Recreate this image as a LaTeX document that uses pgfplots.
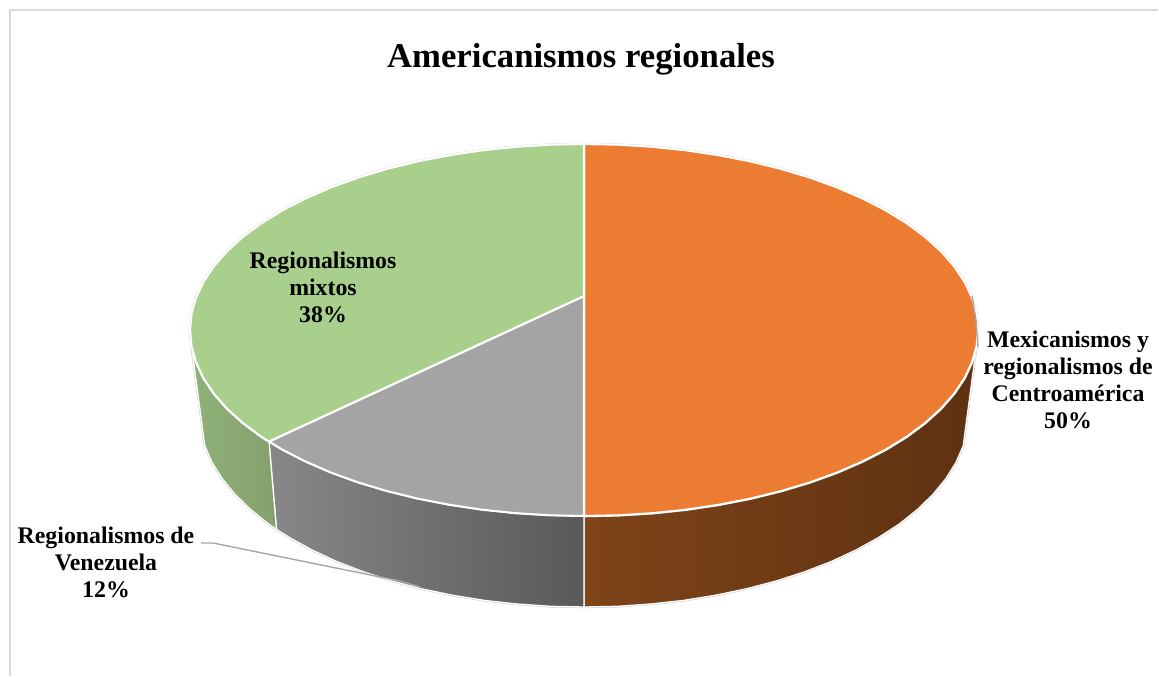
\documentclass[border=0pt]{standalone}
\usepackage{fontspec}
\setmainfont{Liberation Serif}
\usepackage{pgfplots}
\usepackage{pgfplotstable}
\pgfplotsset{compat=1.18}
\definecolor{cOr}{HTML}{EB7C31}
\definecolor{cGr}{HTML}{A9CF8D}
\definecolor{cGy}{HTML}{A4A4A4}
\definecolor{halo}{HTML}{CFCFCF}
\definecolor{frame}{HTML}{DADADA}
\definecolor{leader}{HTML}{A6A6A6}
\definecolor{sideOrL}{HTML}{7F4418}
\definecolor{sideOrD}{HTML}{5E3112}
\pgfplotstableread{
x y
584 296
584 144
618.4 144.7
652.4 146.8
686 150.3
718.7 155.2
750.5 161.4
781 168.9
810 177.6
837.3 187.5
862.6 198.5
885.8 210.4
906.8 223.3
925.2 237
941.1 251.4
954.2 266.4
964.6 281.9
972 297.7
976.5 313.8
978 330
976.5 346.2
972 362.3
964.6 378.1
954.2 393.6
941.1 408.6
925.2 423
906.8 436.7
885.8 449.6
862.6 461.5
837.3 472.5
810 482.4
781 491.1
750.5 498.6
718.7 504.8
686 509.7
652.4 513.2
618.4 515.3
584 516
}\topOrange
\pgfplotstableread{
x y
584 296
584 516
549.6 515.3
515.6 513.2
482 509.7
449.3 504.8
417.5 498.6
387 491.1
358 482.4
330.7 472.5
305.4 461.5
282.2 449.6
269 441.5
}\topGray
\pgfplotstableread{
x y
584 296
269 441.5
261.2 436.7
242.8 423
226.9 408.6
213.8 393.6
203.4 378.1
196 362.3
191.5 346.2
190 330
191.5 313.8
196 297.7
203.4 281.9
213.8 266.4
226.9 251.4
242.8 237
261.2 223.3
282.2 210.4
305.4 198.5
330.7 187.5
358 177.6
387 168.9
417.5 161.4
449.3 155.2
482 150.3
515.6 146.8
549.6 144.7
584 144
}\topGreen
\pgfplotstableread{
x y
584 516
618.4 515.3
652.4 513.2
686 509.7
718.7 504.8
750.5 498.6
781 491.1
810 482.4
837.3 472.5
862.6 461.5
885.8 449.6
906.8 436.7
925.2 423
941.1 408.6
954.2 393.6
964.6 378.1
972 362.3
976.5 346.2
963.2 445.9
955.9 462.5
945.8 478.7
932.9 494.4
917.4 509.5
899.4 523.9
878.9 537.3
856.2 549.9
831.5 561.4
804.8 571.7
776.5 580.9
746.7 588.7
715.7 595.2
683.6 600.4
650.8 604
617.6 606.3
584 607
}\sideOrange
\pgfplotstableread{
x y
584 516
549.6 515.3
515.6 513.2
482 509.7
449.3 504.8
417.5 498.6
387 491.1
358 482.4
330.7 472.5
305.4 461.5
282.2 449.6
269 441.5
276.5 529.4
289.1 537.3
311.8 549.9
336.5 561.4
363.2 571.7
391.5 580.9
421.3 588.7
452.3 595.2
484.4 600.4
517.2 604
550.4 606.3
584 607
}\sideGray
\pgfplotstableread{
x y
269 441.5
261.2 436.7
242.8 423
226.9 408.6
213.8 393.6
203.4 378.1
196 362.3
191.5 346.2
204.8 445.9
212.1 462.5
222.2 478.7
235.1 494.4
250.6 509.5
268.6 523.9
276.5 529.4
}\sideGreen
\begin{document}
\begin{tikzpicture}
\begin{axis}[
  width=1159pt, height=677pt, scale only axis,
  xmin=0, xmax=1159, ymin=0, ymax=677, y dir=reverse,
  hide axis, clip=false,
]
% keep the full canvas in the bounding box
\path (axis cs:0,0) rectangle (axis cs:1159,677);
% chart frame
\addplot[frame, line width=1.8pt] coordinates {(10,676) (10,10) (1158,10)};
% side faces
\addplot[draw=halo, line width=2.4pt, fill=white] table {\sideOrange} -- cycle;
\addplot[draw=halo, line width=2.4pt, fill=white] table {\sideGray} -- cycle;
\addplot[draw=halo, line width=2.4pt, fill=white] table {\sideGreen} -- cycle;
\addplot[draw=white, line width=1.3pt, left color=sideOrL, middle color=sideOrD, right color=sideOrD] table {\sideOrange} -- cycle;
\addplot[draw=white, line width=1.3pt, left color=black!47, right color=black!65] table {\sideGray} -- cycle;
\addplot[draw=white, line width=1.3pt, left color=cGr!85!black, right color=cGr!78!black] table {\sideGreen} -- cycle;
% halo of the back rim
\addplot[draw=halo, line width=2.6pt] table {\topGreen};
\addplot[draw=halo, line width=2.6pt] table {\topOrange};
% top faces
\addplot[draw=white, line width=2.1pt, fill=cOr, line join=round] table {\topOrange} -- cycle;
\addplot[draw=white, line width=2.1pt, fill=cGy, line join=round] table {\topGray} -- cycle;
\addplot[draw=white, line width=2.1pt, fill=cGr, line join=round] table {\topGreen} -- cycle;
% leader lines
\addplot[leader, line width=1.4pt] coordinates {(972,296) (976,320) (978,347)};
\addplot[leader, line width=1.4pt] coordinates {(201,543) (213,543) (400,581) (420,587)};
% labels
\node[font=\fontsize{34.7}{38}\selectfont\bfseries] at (axis cs:581,59) {Americanismos regionales};
\node[font=\fontsize{23.8}{27}\selectfont\bfseries, align=center] at (axis cs:323,287) {Regionalismos\\mixtos\\38\%};
\node[font=\fontsize{23.8}{27}\selectfont\bfseries, align=center] at (axis cs:1068,380) {Mexicanismos y\\regionalismos de\\Centroamérica\\50\%};
\node[font=\fontsize{23.8}{27}\selectfont\bfseries, align=center] at (axis cs:106,562) {Regionalismos de\\Venezuela\\12\%};
\end{axis}
\end{tikzpicture}
\end{document}
